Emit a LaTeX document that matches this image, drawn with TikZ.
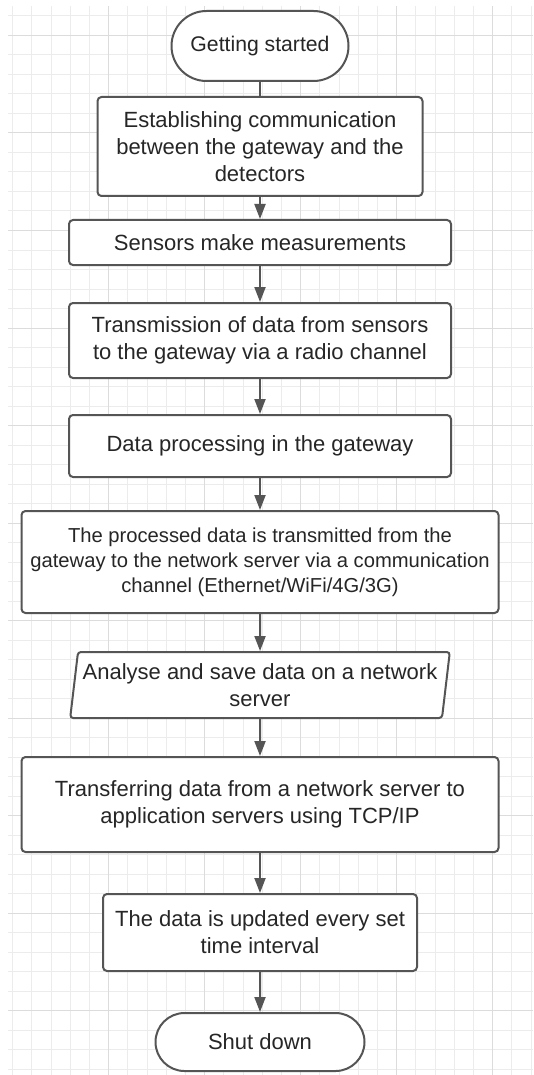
\documentclass[tikz,border=0pt]{standalone}
\usepackage{fontspec}
\setmainfont{Liberation Sans}
\usetikzlibrary{arrows.meta,positioning,shapes.geometric,shapes.misc}
\definecolor{fcline}{HTML}{555555}
\definecolor{fctext}{HTML}{262626}
\definecolor{fcgrid}{HTML}{ECECEC}
\definecolor{fcmajor}{HTML}{DCDCDC}

\begin{document}
\begin{tikzpicture}[x=1pt,y=-1pt,node distance=36pt,
    every node/.style={align=center,text=fctext,font=\fontsize{22}{27}\selectfont},
    stepbox/.style={draw=fcline,line width=2pt,fill=white,rounded corners=4pt,inner sep=3pt},
    termbox/.style={draw=fcline,line width=2pt,fill=white,rounded rectangle,inner sep=3pt},
    iobox/.style={draw=fcline,line width=2pt,fill=white,trapezium,trapezium left angle=80,trapezium right angle=100,trapezium stretches=true,rounded corners=3pt,inner sep=0pt},
    flow/.style={draw=fcline,line width=2pt,-{Triangle[length=15pt,width=11pt]}}]
        \useasboundingbox (0,0) rectangle (533,1075);
        \fill[white] (0,0) rectangle (533,1075);
        \foreach \i in {0,...,27} \draw[fcgrid,line width=1pt] (12.7+19.2*\i,6) -- (12.7+19.2*\i,1075);
        \foreach \j in {0,...,54} \draw[fcgrid,line width=1pt] (8,16+19.5*\j) -- (533,16+19.5*\j);
        \foreach \i in {5,10,...,25} \draw[fcmajor,line width=1pt] (12.7+19.2*\i,6) -- (12.7+19.2*\i,1075);
        \foreach \j in {0,...,10} \draw[fcmajor,line width=1pt] (8,35.5+97.5*\j) -- (533,35.5+97.5*\j);
        \node[termbox,minimum width=183pt,minimum height=70pt,font=\fontsize{21.2}{26}\selectfont] (start) at (260,46) {Getting started};
        \node[stepbox,minimum width=325pt,minimum height=99pt,below=14pt of start] (link) {Establishing communication\\between the gateway and the\\detectors};
        \node[stepbox,minimum width=382pt,minimum height=45pt,below=22pt of link] (measure) {Sensors make measurements};
        \node[stepbox,minimum width=382pt,minimum height=75pt,below=of measure] (radio) {Transmission of data from sensors\\to the gateway via a radio channel};
        \node[stepbox,minimum width=382pt,minimum height=62pt,below=35pt of radio] (process) {Data processing in the gateway};
        \node[stepbox,minimum width=477pt,minimum height=102pt,below=32pt of process,font=\fontsize{20.2}{25}\selectfont] (uplink) {The processed data is transmitted from the\\gateway to the network server via a communication\\channel (Ethernet/WiFi/4G/3G)};
        \node[iobox,minimum width=380pt,minimum height=66pt,below=37pt of uplink] (analyse) {Analyse and save data on a network\\server};
        \node[stepbox,minimum width=477pt,minimum height=95pt,below=37pt of analyse] (transfer) {Transferring data from a network server to\\application servers using TCP/IP};
        \node[stepbox,minimum width=314pt,minimum height=77pt,below=40pt of transfer] (update) {The data is updated every set\\time interval};
        \node[termbox,minimum width=215pt,minimum height=58pt,below=40pt of update] (stop) {Shut down};
        \draw[draw=fcline,line width=2pt] (start) -- (link);
        \draw[flow] (link) -- (measure);
        \draw[flow] (measure) -- (radio);
        \draw[flow] (radio) -- (process);
        \draw[flow] (process) -- (uplink);
        \draw[flow] (uplink) -- (analyse);
        \draw[flow] (analyse) -- (transfer);
        \draw[flow] (transfer) -- (update);
        \draw[flow] (update) -- (stop);
      \end{tikzpicture}
\end{document}
